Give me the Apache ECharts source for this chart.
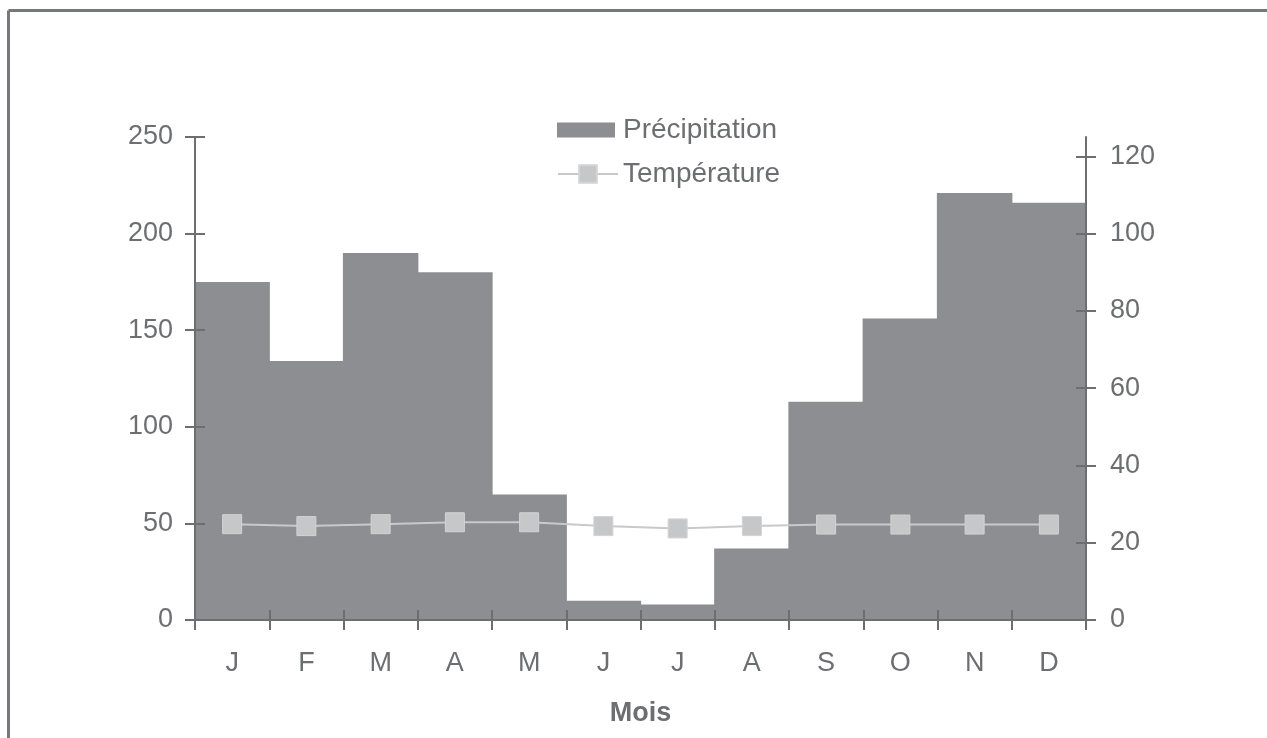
<!DOCTYPE html>
<html>
<head>
<meta charset="utf-8">
<script src="https://cdn.jsdelivr.net/npm/echarts@6/dist/echarts.min.js"></script>
<style>
html,body{margin:0;padding:0;background:#fff;overflow:hidden;}
#chart{width:100vw;height:100vh;}
</style>
</head>
<body>
<div id="chart"></div>
<script>
const months = ['J','F','M','A','M','J','J','A','S','O','N','D'];
const precipitation = [175, 134, 190, 180, 65, 10, 8, 37, 113, 156, 221, 216];
const temperature = [24.8, 24.3, 24.8, 25.3, 25.3, 24.3, 23.7, 24.3, 24.7, 24.7, 24.7, 24.7];
const leftTicks = [0, 50, 100, 150, 200, 250];
const rightTicks = [0, 20, 40, 60, 80, 100, 120];

const txt = '#6d6e71';
const axisCol = '#6d6e71';
const font = 'Liberation Sans, Arial, sans-serif';
const fs = 27;

const chart = echarts.init(document.getElementById('chart'), null, {renderer: 'canvas'});

const baseX = {
  type: 'category', data: months, position: 'bottom',
  boundaryGap: true,
  axisLine: {show: true, lineStyle: {color: axisCol, width: 2}},
  splitLine: {show: false}, z: 3
};

const option = {
  backgroundColor: '#ffffff',
  animation: false,
  textStyle: {fontFamily: font},
  graphic: [
    {type: 'line', shape: {x1: 8.5, y1: 10.5, x2: 1267, y2: 10.5}, style: {stroke: '#77787b', lineWidth: 3}},
    {type: 'line', shape: {x1: 8.5, y1: 10.5, x2: 8.5, y2: 760}, style: {stroke: '#77787b', lineWidth: 3}}
  ],
  legend: [
    {
      orient: 'vertical', left: 557, top: 116, padding: 0,
      itemWidth: 58, itemHeight: 15,
      textStyle: {color: txt, fontSize: 28, fontFamily: font, padding: [0, 0, 0, 3]},
      data: [{name: 'Précipitation', icon: 'rect'}]
    },
    {
      orient: 'vertical', left: 557, top: 160, padding: 0,
      itemWidth: 60, itemHeight: 22,
      textStyle: {color: txt, fontSize: 28, fontFamily: font},
      data: [{name: 'Température'}]
    }
  ],
  grid: {left: 195, right: 181, top: 137, height: 483, containLabel: false},
  xAxis: [
    Object.assign({}, baseX, {
      axisTick: {show: true, inside: false, length: 10, lineStyle: {color: axisCol, width: 2}},
      axisLabel: {color: txt, fontSize: fs, fontFamily: font, margin: 30},
      name: 'Mois', nameLocation: 'middle', nameGap: 80,
      nameTextStyle: {color: txt, fontSize: fs, fontWeight: 'bold', fontFamily: font}
    }),
    Object.assign({}, baseX, {
      axisTick: {show: true, inside: true, length: 10, lineStyle: {color: axisCol, width: 2}},
      axisLabel: {show: false}
    })
  ],
  yAxis: [
    {
      type: 'value', position: 'left', min: 0, max: 250, interval: 50,
      axisLine: {show: true, lineStyle: {color: axisCol, width: 2}},
      axisTick: {show: true, inside: false, length: 10, lineStyle: {color: axisCol, width: 2}},
      axisLabel: {color: txt, fontSize: fs, fontFamily: font, margin: 22},
      splitLine: {show: false}, z: 3
    },
    {
      type: 'value', position: 'left', min: 0, max: 250, interval: 50,
      axisLine: {show: false},
      axisTick: {show: true, inside: true, length: 10, lineStyle: {color: axisCol, width: 2}},
      axisLabel: {show: false},
      splitLine: {show: false}, z: 3
    },
    {
      type: 'value', position: 'right', min: 0, max: 125, interval: 20,
      axisLine: {show: true, lineStyle: {color: axisCol, width: 2}},
      axisTick: {show: true, inside: false, length: 10, customValues: rightTicks, lineStyle: {color: axisCol, width: 2}},
      axisLabel: {color: txt, fontSize: fs, fontFamily: font, margin: 24, customValues: rightTicks},
      splitLine: {show: false}, z: 3
    },
    {
      type: 'value', position: 'right', min: 0, max: 125, interval: 20,
      axisLine: {show: false},
      axisTick: {show: true, inside: true, length: 10, customValues: rightTicks.slice(1), lineStyle: {color: axisCol, width: 2}},
      axisLabel: {show: false},
      splitLine: {show: false}, z: 3
    }
  ],
  series: [
    {
      name: 'Précipitation', type: 'bar', xAxisIndex: 0, yAxisIndex: 0,
      data: precipitation, barWidth: 75.5, barGap: '0%',
      itemStyle: {color: '#8d8e91'}, z: 2
    },
    {
      name: 'Température', type: 'line', xAxisIndex: 0, yAxisIndex: 2,
      data: temperature, symbol: 'rect', symbolSize: 19,
      lineStyle: {color: '#c8c9cb', width: 2},
      itemStyle: {color: '#c6c7c9', borderColor: '#d2d3d5', borderWidth: 1},
      z: 5
    }
  ]
};
chart.setOption(option);
</script>
</body>
</html>
